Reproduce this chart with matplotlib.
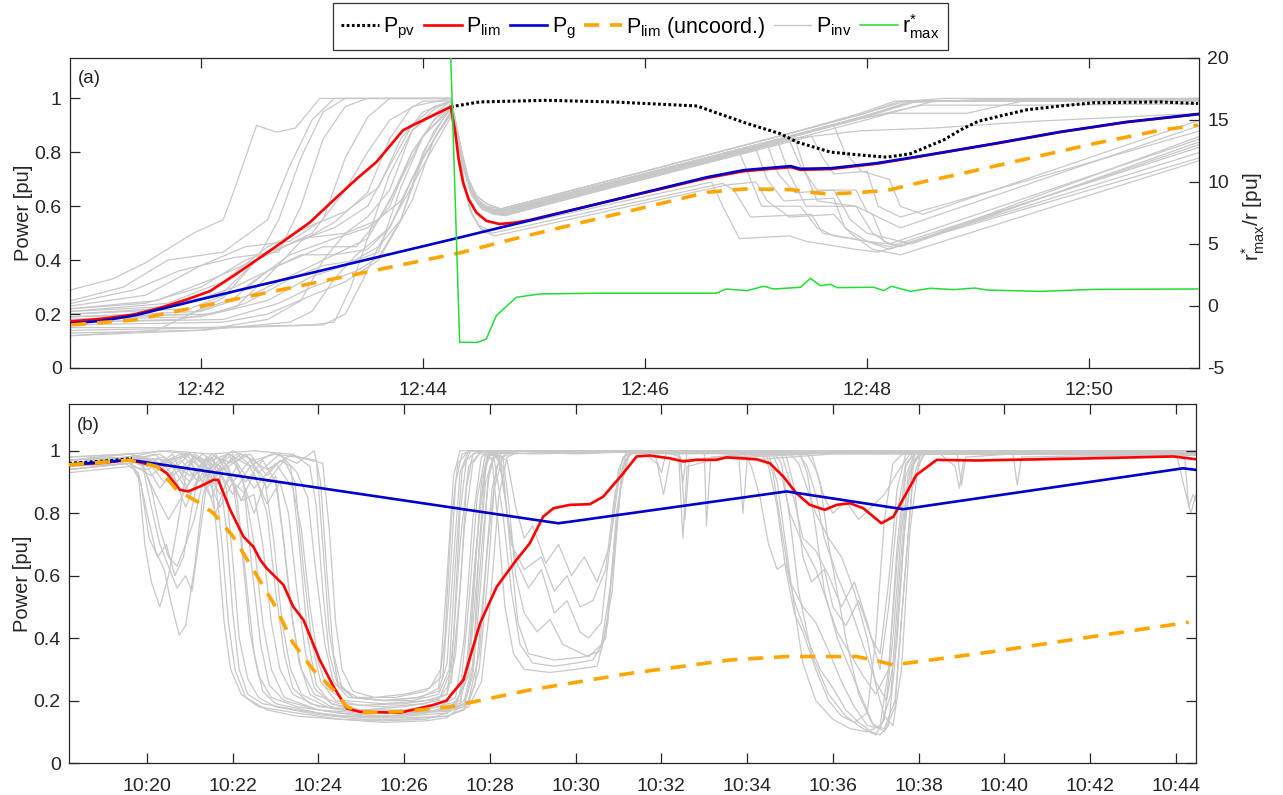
import matplotlib
matplotlib.use("Agg")
import matplotlib.pyplot as plt
from matplotlib.lines import Line2D

plt.rcParams['font.family'] = ['Liberation Sans', 'DejaVu Sans']
plt.rcParams['mathtext.fontset'] = 'custom'
plt.rcParams['mathtext.rm'] = 'Liberation Sans'
plt.rcParams['mathtext.it'] = 'Liberation Sans:italic'
plt.rcParams['mathtext.bf'] = 'Liberation Sans:bold'
plt.rcParams['axes.unicode_minus'] = False

# ---------------------------------------------------------------- panel (a)
# time in minutes after 12:00
ticks_a = [42, 44, 46, 48, 50]
ticklabels_a = ['12:42', '12:44', '12:46', '12:48', '12:50']

t_pv_a = [44.25, 44.51, 45.11, 45.71, 46.47, 46.62, 46.92, 47.22, 47.37, 47.67, 47.94, 48.18,
          48.39, 48.69, 48.85, 49.0, 49.2, 49.44, 49.74, 50.04, 50.64, 50.98]
p_pv_a = [0.969, 0.987, 0.993, 0.987, 0.972, 0.950, 0.907, 0.869, 0.838, 0.801, 0.790, 0.782,
          0.795, 0.846, 0.885, 0.915, 0.935, 0.958, 0.972, 0.984, 0.987, 0.981]

t_lim_a = [40.83, 41.09, 41.39, 41.63, 41.87, 42.08, 42.29, 42.53, 42.77, 42.98, 43.19, 43.40,
           43.58, 43.82, 43.91, 44.25, 44.29, 44.32, 44.36, 44.41, 44.48, 44.57, 44.69, 44.84,
           44.96, 46.56, 46.89, 47.31, 47.40, 47.67, 48.09, 48.54, 49.14, 49.74, 50.34, 50.98]
p_lim_a = [0.173, 0.182, 0.198, 0.223, 0.254, 0.285, 0.341, 0.409, 0.478, 0.540, 0.621, 0.701,
           0.764, 0.882, 0.901, 0.969, 0.876, 0.776, 0.689, 0.627, 0.577, 0.546, 0.534, 0.540,
           0.549, 0.705, 0.730, 0.745, 0.735, 0.738, 0.758, 0.789, 0.831, 0.875, 0.912, 0.941]

t_g_a = [40.83, 41.10, 41.39, 41.99, 44.33, 46.56, 46.89, 47.31, 47.40, 47.67, 48.09, 48.54,
         49.14, 49.74, 50.34, 50.98]
p_g_a = [0.165, 0.175, 0.194, 0.254, 0.484, 0.708, 0.734, 0.749, 0.739, 0.741, 0.760, 0.790,
         0.832, 0.876, 0.913, 0.942]

t_unc_a = [40.83, 41.39, 42.00, 44.34, 44.78, 46.56, 46.89, 47.31, 47.50, 47.63, 47.90, 48.18,
           48.50, 48.84, 49.44, 50.04, 50.64, 50.98]
p_unc_a = [0.160, 0.178, 0.229, 0.428, 0.475, 0.652, 0.664, 0.662, 0.652, 0.646, 0.650, 0.659,
           0.690, 0.720, 0.776, 0.832, 0.882, 0.901]

t_r_a = [44.22, 44.33, 44.49, 44.57, 44.66, 44.84, 45.05, 45.56, 46.64, 46.73, 46.92, 47.07,
         47.16, 47.40, 47.49, 47.58, 47.67, 47.73, 48.06, 48.15, 48.22, 48.39, 48.57, 48.78,
         48.97, 49.08, 49.56, 50.04, 50.98]
r_max_a = [28.6, -2.93, -2.93, -2.66, -0.78, 0.70, 0.97, 1.03, 1.03, 1.37, 1.24, 1.59,
           1.37, 1.51, 2.23, 1.64, 1.75, 1.48, 1.51, 1.24, 1.59, 1.18, 1.43, 1.32,
           1.45, 1.29, 1.18, 1.34, 1.37]

# individual inverter outputs, (minute, pu) knots
inv_a = [
    [(40.83, 0.29), (41.2, 0.33), (41.5, 0.39), (41.93, 0.50), (42.2, 0.55), (42.3, 0.66), (42.5, 0.90),
     (42.68, 0.875), (42.85, 0.89), (43.07, 1.0), (44.25, 1.0), (44.30, 0.90), (44.35, 0.79), (44.41, 0.69),
     (44.48, 0.63), (44.57, 0.60), (44.70, 0.59), (47.30, 0.87), (47.94, 0.94), (48.35, 0.99), (48.7, 1.0),
     (51.0, 1.0)],
    [(40.83, 0.25), (41.3, 0.30), (41.7, 0.40), (42.2, 0.43), (42.6, 0.55), (42.8, 0.75), (43.0, 0.92),
     (43.2, 1.0), (44.25, 1.0), (44.30, 0.89), (44.36, 0.77), (44.42, 0.67), (44.50, 0.61), (44.60, 0.59),
     (44.70, 0.585), (47.30, 0.86), (47.94, 0.93), (48.40, 0.985), (49.0, 0.995), (51.0, 0.99)],
    [(40.83, 0.24), (41.4, 0.29), (41.8, 0.36), (42.3, 0.41), (42.7, 0.43), (42.9, 0.60), (43.1, 0.85),
     (43.3, 0.97), (43.5, 1.0), (44.25, 1.0), (44.31, 0.88), (44.37, 0.75), (44.44, 0.66), (44.52, 0.61),
     (44.62, 0.585), (44.72, 0.58), (47.30, 0.855), (47.94, 0.925), (48.2, 0.945), (48.9, 0.945),
     (49.4, 0.99), (51.0, 0.995)],
    [(40.83, 0.23), (41.5, 0.27), (42.0, 0.38), (42.4, 0.45), (42.8, 0.47), (43.1, 0.55), (43.3, 0.78),
     (43.5, 0.93), (43.7, 1.0), (44.25, 1.0), (44.30, 0.88), (44.36, 0.76), (44.43, 0.66), (44.51, 0.61),
     (44.62, 0.585), (44.72, 0.578), (47.35, 0.85), (47.45, 0.72), (47.55, 0.62), (47.9, 0.60),
     (48.05, 0.57), (48.15, 0.47), (48.3, 0.45), (51.0, 0.86)],
    [(40.83, 0.22), (41.6, 0.25), (42.1, 0.33), (42.6, 0.42), (43.0, 0.50), (43.3, 0.66), (43.5, 0.80),
     (43.7, 0.92), (44.0, 0.99), (44.25, 0.99), (44.31, 0.87), (44.37, 0.74), (44.44, 0.65), (44.53, 0.60),
     (44.64, 0.58), (44.74, 0.575), (47.30, 0.85), (47.94, 0.88), (48.6, 0.89), (49.5, 0.915),
     (51.0, 0.945)],
    [(40.83, 0.22), (41.5, 0.24), (42.0, 0.30), (42.4, 0.40), (42.8, 0.46), (43.2, 0.52), (43.5, 0.60),
     (43.7, 0.75), (43.9, 0.90), (44.1, 0.97), (44.25, 0.99), (44.30, 0.89), (44.36, 0.77), (44.42, 0.67),
     (44.50, 0.61), (44.60, 0.585), (44.70, 0.575), (46.85, 0.80), (46.95, 0.70), (47.05, 0.60),
     (47.4, 0.60), (47.55, 0.52), (47.7, 0.49), (48.0, 0.47), (48.2, 0.44), (51.0, 0.83)],
    [(40.83, 0.21), (41.7, 0.24), (42.2, 0.32), (42.6, 0.45), (43.0, 0.53), (43.3, 0.58), (43.6, 0.67),
     (43.8, 0.85), (44.0, 0.95), (44.25, 0.99), (44.30, 0.88), (44.36, 0.75), (44.43, 0.65), (44.52, 0.60),
     (44.62, 0.58), (44.70, 0.57), (47.1, 0.83), (47.2, 0.72), (47.35, 0.65), (47.7, 0.66), (47.85, 0.55),
     (48.0, 0.50), (48.4, 0.46), (51.0, 0.84)],
    [(40.83, 0.21), (41.8, 0.23), (42.3, 0.30), (42.7, 0.38), (43.1, 0.45), (43.4, 0.45), (43.7, 0.60),
     (43.9, 0.80), (44.1, 0.92), (44.25, 0.98), (44.31, 0.88), (44.37, 0.75), (44.44, 0.66), (44.52, 0.61),
     (44.62, 0.59), (44.72, 0.582), (47.30, 0.858), (47.94, 0.93), (48.45, 0.99), (51.0, 1.0)],
    [(40.83, 0.20), (41.6, 0.22), (42.2, 0.28), (42.5, 0.40), (42.9, 0.48), (43.3, 0.50), (43.6, 0.55),
     (43.8, 0.70), (44.0, 0.86), (44.25, 0.97), (44.30, 0.86), (44.36, 0.70), (44.42, 0.59), (44.50, 0.53),
     (44.60, 0.51), (46.6, 0.69), (46.7, 0.60), (46.85, 0.48), (47.3, 0.49), (47.45, 0.47), (47.9, 0.44),
     (48.1, 0.43), (51.0, 0.80)],
    [(40.83, 0.20), (41.9, 0.22), (42.4, 0.30), (42.8, 0.42), (43.2, 0.48), (43.5, 0.52), (43.8, 0.62),
     (44.0, 0.78), (44.25, 0.95), (44.31, 0.85), (44.37, 0.69), (44.43, 0.58), (44.51, 0.52), (44.62, 0.50),
     (46.7, 0.685), (46.8, 0.66), (46.95, 0.56), (47.5, 0.57), (47.6, 0.50), (48.0, 0.47), (48.3, 0.455),
     (51.0, 0.78)],
    [(40.83, 0.19), (42.0, 0.21), (42.5, 0.28), (42.9, 0.36), (43.2, 0.42), (43.5, 0.44), (43.7, 0.52),
     (43.9, 0.70), (44.1, 0.85), (44.25, 0.94), (44.31, 0.84), (44.37, 0.68), (44.44, 0.57), (44.53, 0.51),
     (44.64, 0.49), (46.75, 0.68), (47.0, 0.69), (47.1, 0.62), (47.3, 0.56), (47.7, 0.57), (47.85, 0.50),
     (48.05, 0.44), (48.3, 0.42), (51.0, 0.77)],
    [(40.83, 0.19), (42.1, 0.20), (42.6, 0.25), (43.0, 0.34), (43.3, 0.38), (43.6, 0.45), (43.8, 0.60),
     (44.0, 0.75), (44.25, 0.93), (44.31, 0.85), (44.37, 0.74), (44.44, 0.65), (44.53, 0.60), (44.64, 0.585),
     (44.74, 0.58), (47.30, 0.855), (47.94, 0.925), (48.45, 0.99), (51.0, 1.0)],
    [(40.83, 0.18), (41.9, 0.20), (42.3, 0.26), (42.6, 0.36), (42.9, 0.42), (43.2, 0.42), (43.5, 0.48),
     (43.7, 0.72), (43.9, 0.88), (44.1, 0.96), (44.25, 0.99), (44.30, 0.88), (44.36, 0.76), (44.43, 0.66),
     (44.51, 0.60), (44.62, 0.575), (44.72, 0.57), (47.30, 0.845), (47.94, 0.915), (48.6, 0.99),
     (51.0, 0.99)],
    [(40.83, 0.18), (42.0, 0.19), (42.4, 0.24), (42.8, 0.33), (43.1, 0.38), (43.4, 0.40), (43.6, 0.43),
     (43.8, 0.67), (44.0, 0.86), (44.25, 0.96), (44.31, 0.87), (44.37, 0.75), (44.44, 0.65), (44.52, 0.60),
     (44.62, 0.578), (44.72, 0.572), (47.3, 0.845), (47.4, 0.75), (47.55, 0.66), (47.9, 0.66), (48.0, 0.58),
     (48.15, 0.55), (48.3, 0.52), (51.0, 0.90)],
    [(40.83, 0.17), (42.2, 0.18), (42.7, 0.24), (43.0, 0.30), (43.4, 0.36), (43.6, 0.41), (43.8, 0.55),
     (44.0, 0.80), (44.25, 0.97), (44.31, 0.87), (44.37, 0.74), (44.44, 0.64), (44.53, 0.59), (44.64, 0.572),
     (44.74, 0.568), (47.5, 0.86), (47.6, 0.78), (47.7, 0.72), (48.0, 0.73), (48.1, 0.60), (48.3, 0.56),
     (51.0, 0.88)],
    [(40.83, 0.17), (41.8, 0.18), (42.3, 0.22), (42.6, 0.34), (42.9, 0.47), (43.2, 0.54), (43.5, 0.65),
     (43.7, 0.85), (43.9, 0.97), (44.25, 1.0), (44.30, 0.90), (44.35, 0.80), (44.41, 0.70), (44.48, 0.64),
     (44.57, 0.61), (44.70, 0.59), (47.30, 0.87), (47.94, 0.945), (48.25, 0.99), (51.0, 0.995)],
    [(40.83, 0.16), (42.2, 0.17), (42.6, 0.20), (43.0, 0.27), (43.3, 0.32), (43.6, 0.40), (43.9, 0.62),
     (44.1, 0.85), (44.25, 0.95), (44.31, 0.86), (44.37, 0.73), (44.44, 0.64), (44.53, 0.59), (44.64, 0.57),
     (44.74, 0.565), (47.0, 0.81), (47.1, 0.70), (47.25, 0.62), (47.7, 0.63), (47.8, 0.52), (48.0, 0.47),
     (48.2, 0.45), (51.0, 0.82)],
    [(40.83, 0.15), (42.0, 0.15), (43.0, 0.16), (43.2, 0.17), (43.35, 0.30), (43.5, 0.48), (43.7, 0.62),
     (43.9, 0.80), (44.1, 0.92), (44.25, 0.97), (44.31, 0.87), (44.37, 0.75), (44.44, 0.65), (44.52, 0.60),
     (44.62, 0.58), (44.72, 0.575), (47.7, 0.90), (47.8, 0.80), (47.95, 0.73), (48.2, 0.70), (48.3, 0.60),
     (48.5, 0.57), (51.0, 0.92)],
    [(40.83, 0.14), (42.3, 0.15), (43.1, 0.16), (43.3, 0.20), (43.45, 0.32), (43.6, 0.45), (43.8, 0.55),
     (44.0, 0.78), (44.25, 0.95), (44.31, 0.86), (44.37, 0.74), (44.44, 0.65), (44.52, 0.60), (44.62, 0.585),
     (44.72, 0.58), (47.30, 0.855), (47.94, 0.925), (48.5, 0.975), (49.5, 0.975), (51.0, 0.98)],
    [(40.83, 0.13), (42.0, 0.14), (42.8, 0.17), (43.0, 0.21), (43.2, 0.33), (43.4, 0.42), (43.7, 0.52),
     (43.9, 0.70), (44.1, 0.88), (44.25, 0.96), (44.31, 0.87), (44.37, 0.75), (44.44, 0.65), (44.52, 0.61),
     (44.62, 0.59), (44.72, 0.585), (47.30, 0.86), (47.94, 0.93), (48.4, 0.99), (51.0, 0.995)],
    [(40.83, 0.12), (42.0, 0.14), (42.6, 0.18), (42.9, 0.25), (43.1, 0.40), (43.3, 0.50), (43.5, 0.56),
     (43.7, 0.66), (43.9, 0.88), (44.25, 0.99), (44.30, 0.88), (44.36, 0.75), (44.43, 0.65), (44.51, 0.60),
     (44.62, 0.575), (44.72, 0.57), (47.2, 0.835), (47.3, 0.72), (47.45, 0.60), (47.9, 0.60), (48.05, 0.50),
     (48.2, 0.46), (51.0, 0.85)],
    [(40.83, 0.12), (41.6, 0.14), (42.2, 0.26), (42.5, 0.40), (42.7, 0.55), (42.9, 0.78), (43.1, 0.95),
     (43.3, 1.0), (44.25, 1.0), (44.30, 0.90), (44.35, 0.80), (44.41, 0.70), (44.48, 0.64), (44.57, 0.61),
     (44.70, 0.59), (47.30, 0.87), (47.94, 0.94), (48.3, 0.99), (51.0, 1.0)],
]

# ---------------------------------------------------------------- panel (b)
# time in minutes after 10:00
ticks_b = [20, 22, 24, 26, 28, 30, 32, 34, 36, 38, 40, 42, 44]
ticklabels_b = ['10:20', '10:22', '10:24', '10:26', '10:28', '10:30', '10:32', '10:34',
                '10:36', '10:38', '10:40', '10:42', '10:44']

t_pv_b = [18.18, 19.0, 19.65]
p_pv_b = [0.960, 0.967, 0.975]

t_lim_b = [18.18, 19.0, 19.6, 20.23, 20.46, 20.77, 20.96, 21.24, 21.55, 21.66, 21.94, 22.25,
           22.48, 22.64, 22.79, 23.18, 23.41, 23.65, 24.03, 24.35, 24.66, 24.97, 25.90, 26.68,
           26.99, 27.07, 27.38, 27.77, 28.16, 28.62, 28.93, 29.24, 29.48, 29.87, 30.33, 30.64,
           31.11, 31.42, 31.73, 32.2, 32.51, 32.82, 33.28, 33.52, 34.22, 34.53, 34.84, 35.15,
           35.46, 35.81, 36.09, 36.40, 36.71, 37.13, 37.41, 37.80, 37.95, 38.42, 39.35, 42.07,
           43.94, 44.47]
p_lim_b = [0.955, 0.962, 0.971, 0.950, 0.928, 0.875, 0.870, 0.886, 0.907, 0.907, 0.811, 0.725,
           0.693, 0.651, 0.624, 0.571, 0.501, 0.458, 0.330, 0.245, 0.175, 0.164, 0.161, 0.186,
           0.200, 0.215, 0.266, 0.448, 0.565, 0.651, 0.704, 0.789, 0.816, 0.827, 0.829, 0.853,
           0.928, 0.982, 0.985, 0.976, 0.966, 0.971, 0.971, 0.979, 0.973, 0.960, 0.918, 0.864,
           0.827, 0.811, 0.827, 0.832, 0.816, 0.768, 0.789, 0.886, 0.923, 0.971, 0.969, 0.976,
           0.982, 0.973]

t_g_b = [18.18, 19.60, 29.59, 29.87, 34.92, 37.64, 44.17, 44.47]
p_g_b = [0.955, 0.971, 0.768, 0.773, 0.870, 0.813, 0.944, 0.939]

t_unc_b = [18.18, 19.6, 20.23, 20.69, 21.24, 21.55, 22.01, 22.48, 22.95, 23.41, 23.88, 24.35,
           24.66, 25.12, 26.0, 27.07, 28.93, 31.26, 33.6, 34.92, 36.55, 37.10, 37.41, 39.74, 44.3]
p_unc_b = [0.955, 0.970, 0.950, 0.875, 0.832, 0.800, 0.725, 0.619, 0.512, 0.384, 0.298, 0.234,
           0.180, 0.161, 0.165, 0.180, 0.234, 0.287, 0.330, 0.341, 0.341, 0.325, 0.314, 0.357, 0.451]

inv_b = [
    [(18.18, 0.94), (19.5, 0.96), (19.8, 0.93), (20.0, 0.80), (20.2, 0.68), (20.4, 0.62), (20.55, 0.52),
     (20.75, 0.41), (20.9, 0.44), (21.1, 0.62), (21.3, 0.85), (21.5, 0.97), (21.9, 0.99), (22.4, 0.95),
     (22.9, 0.99), (23.5, 0.98), (23.95, 0.97), (24.1, 0.70), (24.25, 0.42), (24.45, 0.26), (24.8, 0.21),
     (25.6, 0.20), (26.4, 0.21), (26.8, 0.24), (26.95, 0.40), (27.1, 0.78), (27.25, 0.96), (27.5, 1.0),
     (28.5, 0.99), (30.0, 1.0), (32.5, 0.99), (34.6, 1.0), (34.8, 0.96), (35.0, 0.78), (35.2, 0.55),
     (35.5, 0.35), (35.9, 0.22), (36.3, 0.15), (36.7, 0.11), (37.0, 0.09), (37.2, 0.14), (37.4, 0.40),
     (37.6, 0.75), (37.8, 0.93), (38.0, 0.99), (39.0, 0.99), (44.47, 0.985)],
    [(18.18, 0.96), (19.6, 0.98), (19.9, 0.95), (20.1, 0.82), (20.3, 0.70), (20.5, 0.63), (20.7, 0.56),
     (20.9, 0.60), (21.05, 0.55), (21.2, 0.70), (21.4, 0.90), (21.6, 0.98), (22.0, 0.96), (22.4, 0.99),
     (22.8, 0.92), (23.1, 0.97), (23.35, 0.95), (23.55, 0.70), (23.75, 0.40), (23.95, 0.25), (24.3, 0.19),
     (25.0, 0.17), (26.0, 0.18), (26.8, 0.20), (27.1, 0.30), (27.3, 0.70), (27.5, 0.95), (27.8, 1.0),
     (28.1, 0.97), (28.3, 0.80), (28.5, 0.55), (28.7, 0.38), (29.0, 0.32), (29.5, 0.31), (30.0, 0.32),
     (30.4, 0.33), (30.7, 0.40), (30.9, 0.70), (31.1, 0.95), (31.3, 1.0), (33.0, 0.99), (34.5, 1.0),
     (44.47, 0.99)],
    [(18.18, 0.95), (19.6, 0.97), (19.9, 0.96), (20.1, 0.88), (20.3, 0.75), (20.5, 0.66), (20.7, 0.63),
     (20.9, 0.70), (21.1, 0.78), (21.3, 0.90), (21.5, 0.96), (21.7, 0.92), (21.85, 0.75), (22.0, 0.48),
     (22.15, 0.30), (22.35, 0.22), (22.7, 0.19), (23.5, 0.17), (24.5, 0.15), (25.5, 0.15), (26.5, 0.16),
     (27.2, 0.19), (27.5, 0.28), (27.7, 0.60), (27.9, 0.90), (28.1, 0.99), (28.5, 1.0), (30.0, 0.99),
     (31.8, 1.0), (32.0, 0.93), (32.1, 0.99), (34.3, 1.0), (34.5, 0.95), (34.7, 0.82), (34.9, 0.62),
     (35.1, 0.48), (35.3, 0.42), (35.6, 0.30), (35.9, 0.20), (36.2, 0.15), (36.5, 0.13), (36.8, 0.16),
     (37.0, 0.40), (37.2, 0.78), (37.4, 0.96), (37.7, 1.0), (44.47, 1.0)],
    [(18.18, 0.97), (19.6, 0.99), (20.0, 0.97), (20.4, 0.90), (20.7, 0.95), (21.0, 0.99), (21.3, 0.97),
     (21.5, 0.92), (21.65, 0.70), (21.8, 0.45), (21.95, 0.30), (22.2, 0.22), (22.6, 0.18), (23.5, 0.16),
     (24.5, 0.14), (25.5, 0.135), (26.5, 0.14), (27.0, 0.16), (27.3, 0.22), (27.5, 0.50), (27.7, 0.85),
     (27.9, 0.99), (28.3, 1.0), (31.0, 1.0), (32.4, 0.99), (32.5, 0.72), (32.6, 0.95), (34.0, 1.0),
     (44.47, 0.995)],
    [(18.18, 0.95), (19.6, 0.97), (20.0, 0.95), (20.3, 0.88), (20.6, 0.93), (20.9, 0.82), (21.2, 0.92),
     (21.5, 0.85), (21.8, 0.95), (22.0, 0.90), (22.2, 0.70), (22.4, 0.42), (22.6, 0.28), (22.9, 0.21),
     (23.5, 0.18), (24.5, 0.16), (25.5, 0.15), (26.5, 0.16), (27.2, 0.18), (27.45, 0.30), (27.65, 0.65),
     (27.85, 0.92), (28.0, 1.0), (28.3, 0.98), (28.45, 0.82), (28.6, 0.60), (28.8, 0.48), (29.1, 0.42),
     (29.4, 0.46), (29.7, 0.38), (30.0, 0.36), (30.3, 0.34), (30.6, 0.38), (30.85, 0.60), (31.05, 0.88),
     (31.25, 0.99), (33.0, 1.0), (33.05, 0.76), (33.15, 0.98), (35.2, 1.0), (35.4, 0.93), (35.6, 0.75),
     (35.8, 0.55), (36.1, 0.40), (36.4, 0.30), (36.7, 0.20), (36.95, 0.12), (37.2, 0.11), (37.45, 0.20),
     (37.65, 0.55), (37.85, 0.88), (38.1, 0.99), (44.47, 0.99)],
    [(18.18, 0.93), (19.6, 0.95), (20.0, 0.94), (20.5, 0.97), (21.0, 0.90), (21.3, 0.95), (21.7, 0.82),
     (22.0, 0.90), (22.3, 0.86), (22.5, 0.70), (22.7, 0.45), (22.9, 0.30), (23.2, 0.21), (24.0, 0.17),
     (25.0, 0.15), (26.0, 0.15), (27.0, 0.16), (27.5, 0.20), (27.75, 0.35), (27.95, 0.70), (28.15, 0.95),
     (28.4, 1.0), (32.0, 1.0), (33.8, 0.99), (33.9, 0.80), (34.0, 0.97), (36.0, 0.99), (37.5, 0.99),
     (44.0, 1.0), (44.2, 0.88), (44.35, 0.80), (44.47, 0.86)],
    [(18.18, 0.96), (19.6, 0.97), (20.2, 0.99), (20.6, 0.92), (21.0, 0.97), (21.4, 0.88), (21.8, 0.97),
     (22.2, 0.84), (22.5, 0.93), (22.8, 0.80), (23.0, 0.55), (23.2, 0.35), (23.4, 0.24), (23.8, 0.19),
     (24.5, 0.17), (25.5, 0.16), (26.5, 0.17), (27.3, 0.20), (27.5, 0.30), (27.65, 0.62), (27.8, 0.90),
     (27.95, 0.99), (28.2, 0.98), (28.35, 0.85), (28.5, 0.70), (28.8, 0.62), (29.2, 0.66), (29.5, 0.55),
     (29.8, 0.60), (30.1, 0.50), (30.4, 0.52), (30.7, 0.62), (30.9, 0.85), (31.1, 0.98), (31.4, 1.0),
     (34.8, 0.99), (35.0, 0.90), (35.3, 0.72), (35.6, 0.68), (35.9, 0.60), (36.2, 0.50), (36.5, 0.58),
     (36.8, 0.45), (37.1, 0.30), (37.3, 0.50), (37.5, 0.80), (37.7, 0.96), (38.0, 1.0), (44.47, 0.99)],
    [(18.18, 0.98), (19.6, 0.99), (20.3, 0.96), (20.8, 0.99), (21.2, 0.93), (21.6, 0.99), (22.0, 0.90),
     (22.4, 0.97), (22.8, 0.88), (23.0, 0.92), (23.2, 0.70), (23.4, 0.45), (23.6, 0.30), (23.9, 0.22),
     (24.5, 0.19), (25.5, 0.18), (26.5, 0.19), (27.0, 0.22), (27.15, 0.40), (27.3, 0.80), (27.45, 0.97),
     (27.7, 1.0), (28.05, 0.97), (28.2, 0.75), (28.35, 0.50), (28.55, 0.35), (28.8, 0.30), (29.4, 0.29),
     (30.0, 0.30), (30.5, 0.31), (30.75, 0.45), (30.95, 0.80), (31.15, 0.97), (31.4, 1.0), (35.0, 1.0),
     (44.47, 0.995)],
    [(18.18, 0.95), (19.6, 0.96), (20.4, 0.98), (21.0, 0.92), (21.5, 0.98), (22.0, 0.86), (22.4, 0.95),
     (22.8, 0.83), (23.1, 0.90), (23.3, 0.80), (23.5, 0.55), (23.7, 0.35), (23.9, 0.24), (24.3, 0.19),
     (25.0, 0.16), (26.0, 0.16), (27.0, 0.17), (27.5, 0.19), (27.75, 0.30), (27.95, 0.60), (28.1, 0.88),
     (28.3, 0.98), (28.6, 1.0), (32.4, 1.0), (32.5, 0.90), (32.6, 1.0), (34.6, 0.99), (34.8, 0.92),
     (35.0, 0.80), (35.3, 0.70), (35.6, 0.62), (35.9, 0.50), (36.1, 0.42), (36.4, 0.35), (36.7, 0.28),
     (37.0, 0.22), (37.3, 0.30), (37.5, 0.65), (37.7, 0.92), (37.9, 0.99), (44.47, 0.99)],
    [(18.18, 0.96), (19.6, 0.98), (20.5, 0.97), (21.0, 0.99), (21.5, 0.90), (22.0, 0.98), (22.5, 0.88),
     (23.0, 0.96), (23.4, 0.88), (23.6, 0.75), (23.8, 0.50), (24.0, 0.32), (24.2, 0.24), (24.6, 0.20),
     (25.5, 0.19), (26.5, 0.20), (27.0, 0.22), (27.2, 0.35), (27.4, 0.75), (27.6, 0.96), (27.8, 1.0),
     (34.5, 0.99), (34.7, 0.90), (34.9, 0.70), (35.1, 0.50), (35.3, 0.32), (35.6, 0.20), (36.0, 0.14),
     (36.4, 0.11), (36.8, 0.10), (37.1, 0.12), (37.3, 0.30), (37.5, 0.70), (37.7, 0.95), (37.9, 1.0),
     (44.47, 0.99)],
    [(18.18, 0.97), (19.6, 0.98), (20.3, 1.0), (21.0, 0.99), (21.5, 0.95), (22.0, 1.0), (22.5, 0.97),
     (23.0, 0.99), (23.5, 0.96), (23.9, 1.0), (24.05, 0.90), (24.2, 0.60), (24.35, 0.35), (24.55, 0.24),
     (24.9, 0.21), (25.8, 0.21), (26.5, 0.23), (26.9, 0.28), (27.05, 0.55), (27.2, 0.90), (27.35, 0.99),
     (27.6, 1.0), (29.0, 0.99), (32.0, 1.0), (32.45, 0.98), (32.55, 0.78), (32.65, 0.97), (35.5, 0.99),
     (35.7, 0.90), (35.9, 0.70), (36.1, 0.55), (36.3, 0.40), (36.6, 0.22), (36.9, 0.13), (37.2, 0.10),
     (37.45, 0.18), (37.65, 0.55), (37.85, 0.90), (38.05, 0.99), (44.47, 0.995)],
    [(18.18, 0.94), (19.6, 0.96), (19.85, 0.90), (20.05, 0.72), (20.25, 0.66), (20.45, 0.70), (20.65, 0.60),
     (20.85, 0.66), (21.05, 0.82), (21.25, 0.95), (21.5, 0.99), (21.9, 0.95), (22.1, 0.85), (22.3, 0.60),
     (22.5, 0.35), (22.7, 0.23), (23.0, 0.19), (24.0, 0.16), (25.0, 0.145), (26.0, 0.145), (27.0, 0.15),
     (27.5, 0.18), (27.8, 0.26), (28.0, 0.50), (28.2, 0.85), (28.4, 0.98), (28.7, 1.0), (34.4, 1.0),
     (34.6, 0.93), (34.8, 0.75), (35.0, 0.58), (35.3, 0.50), (35.6, 0.45), (35.9, 0.36), (36.2, 0.26),
     (36.5, 0.18), (36.8, 0.12), (37.1, 0.11), (37.35, 0.22), (37.55, 0.60), (37.75, 0.92), (37.95, 1.0),
     (44.47, 0.99)],
    [(18.18, 0.95), (19.6, 0.97), (20.2, 0.95), (20.6, 0.99), (21.0, 0.86), (21.3, 0.93), (21.6, 0.80),
     (21.9, 0.92), (22.2, 0.84), (22.5, 0.86), (22.7, 0.70), (22.9, 0.45), (23.1, 0.30), (23.4, 0.22),
     (24.0, 0.18), (25.0, 0.17), (26.0, 0.17), (26.8, 0.18), (27.2, 0.21), (27.4, 0.40), (27.6, 0.78),
     (27.8, 0.98), (28.0, 1.0), (28.25, 0.96), (28.4, 0.80), (28.6, 0.65), (28.9, 0.56), (29.2, 0.62),
     (29.5, 0.48), (29.8, 0.52), (30.1, 0.42), (30.3, 0.40), (30.6, 0.45), (30.8, 0.70), (31.0, 0.94),
     (31.2, 1.0), (33.5, 0.99), (36.5, 1.0), (44.47, 1.0)],
    [(18.18, 0.97), (19.6, 0.99), (20.2, 0.97), (20.7, 0.90), (21.1, 0.98), (21.6, 0.92), (22.1, 0.99),
     (22.6, 0.93), (23.1, 0.99), (23.5, 0.93), (23.75, 0.85), (23.95, 0.60), (24.15, 0.38), (24.35, 0.26),
     (24.7, 0.21), (25.5, 0.20), (26.3, 0.21), (26.8, 0.23), (27.0, 0.32), (27.15, 0.65), (27.3, 0.93),
     (27.5, 1.0), (35.4, 0.99), (35.6, 0.94), (35.8, 0.85), (36.0, 0.80), (36.3, 0.84), (36.6, 0.78),
     (36.9, 0.82), (37.2, 0.86), (37.5, 0.93), (37.8, 0.99), (44.47, 0.99)],
    [(18.18, 0.96), (19.6, 0.98), (20.0, 0.97), (20.4, 0.93), (20.8, 0.97), (21.2, 0.90), (21.6, 0.96),
     (21.85, 0.88), (22.0, 0.65), (22.15, 0.40), (22.35, 0.27), (22.6, 0.21), (23.0, 0.18), (24.0, 0.155),
     (25.0, 0.14), (26.0, 0.14), (27.0, 0.15), (27.4, 0.17), (27.65, 0.25), (27.85, 0.55), (28.05, 0.88),
     (28.25, 0.99), (28.5, 1.0), (31.5, 1.0), (31.9, 0.96), (32.05, 0.86), (32.2, 0.97), (34.9, 0.99),
     (35.1, 0.88), (35.3, 0.66), (35.5, 0.58), (35.8, 0.62), (36.0, 0.50), (36.3, 0.44), (36.6, 0.52),
     (36.9, 0.40), (37.1, 0.35), (37.3, 0.58), (37.5, 0.88), (37.7, 0.99), (44.47, 0.99)],
    [(18.18, 0.97), (19.6, 0.98), (20.3, 0.95), (20.9, 0.99), (21.4, 0.92), (21.9, 0.99), (22.3, 0.90),
     (22.7, 0.97), (23.0, 0.90), (23.15, 0.75), (23.35, 0.50), (23.55, 0.32), (23.8, 0.22), (24.3, 0.18),
     (25.0, 0.16), (26.0, 0.16), (27.0, 0.17), (27.4, 0.20), (27.6, 0.32), (27.8, 0.68), (28.0, 0.95),
     (28.2, 1.0), (33.0, 1.0), (38.5, 0.99), (38.85, 0.95), (38.95, 0.88), (39.05, 0.97), (44.47, 0.99)],
    [(18.18, 0.95), (19.6, 0.97), (19.9, 0.95), (20.2, 0.86), (20.5, 0.78), (20.8, 0.85), (21.1, 0.93),
     (21.4, 0.98), (21.6, 0.90), (21.75, 0.70), (21.9, 0.45), (22.05, 0.30), (22.3, 0.21), (22.8, 0.17),
     (23.5, 0.15), (24.5, 0.14), (25.5, 0.13), (26.5, 0.135), (27.0, 0.145), (27.3, 0.18), (27.55, 0.40),
     (27.75, 0.80), (27.95, 0.98), (28.2, 1.0), (33.9, 1.0), (34.1, 0.95), (34.3, 0.85), (34.5, 0.70),
     (34.7, 0.62), (34.9, 0.64), (35.1, 0.52), (35.4, 0.40), (35.7, 0.30), (36.0, 0.24), (36.3, 0.17),
     (36.6, 0.13), (36.9, 0.10), (37.1, 0.09), (37.3, 0.12), (37.5, 0.40), (37.7, 0.80), (37.9, 0.97),
     (38.1, 1.0), (44.47, 0.995)],
    [(18.18, 0.98), (19.6, 0.99), (20.5, 1.0), (21.5, 0.99), (22.5, 1.0), (23.3, 0.99), (23.8, 0.97),
     (24.1, 0.96), (24.25, 0.75), (24.4, 0.45), (24.55, 0.30), (24.8, 0.23), (25.3, 0.21), (26.0, 0.22),
     (26.6, 0.24), (26.85, 0.30), (27.0, 0.60), (27.15, 0.92), (27.3, 1.0), (38.9, 0.99), (39.0, 0.89),
     (39.1, 0.98), (40.2, 0.99), (40.3, 0.89), (40.4, 0.98), (44.47, 0.99)],
    [(18.18, 0.94), (19.6, 0.96), (20.1, 0.92), (20.5, 0.97), (20.9, 0.88), (21.3, 0.96), (21.7, 0.86),
     (22.1, 0.95), (22.5, 0.80), (22.75, 0.90), (22.95, 0.72), (23.15, 0.45), (23.35, 0.30), (23.6, 0.22),
     (24.2, 0.18), (25.0, 0.165), (26.0, 0.165), (27.0, 0.17), (27.4, 0.19), (27.6, 0.28), (27.8, 0.60),
     (27.95, 0.90), (28.1, 0.99), (28.4, 0.97), (28.6, 0.82), (28.8, 0.72), (29.0, 0.76), (29.3, 0.64),
     (29.6, 0.70), (29.9, 0.60), (30.2, 0.66), (30.5, 0.58), (30.8, 0.70), (31.0, 0.90), (31.2, 1.0),
     (33.7, 0.99), (44.47, 0.995)],
    [(18.18, 0.95), (19.6, 0.97), (20.3, 0.99), (20.8, 0.93), (21.3, 0.99), (21.8, 0.94), (22.3, 0.99),
     (22.8, 0.90), (23.2, 0.97), (23.45, 0.90), (23.65, 0.62), (23.85, 0.38), (24.05, 0.26), (24.4, 0.20),
     (25.0, 0.185), (26.0, 0.19), (26.8, 0.205), (27.1, 0.26), (27.3, 0.55), (27.45, 0.88), (27.6, 0.99),
     (27.9, 1.0), (35.2, 0.99), (35.4, 0.95), (35.6, 0.86), (35.8, 0.72), (36.1, 0.60), (36.4, 0.50),
     (36.7, 0.38), (37.0, 0.26), (37.25, 0.20), (37.45, 0.35), (37.65, 0.72), (37.85, 0.95), (38.1, 1.0),
     (44.47, 1.0)],
    [(18.18, 0.96), (19.6, 0.97), (19.8, 0.92), (19.95, 0.70), (20.1, 0.58), (20.3, 0.50), (20.5, 0.60),
     (20.7, 0.75), (20.9, 0.92), (21.1, 0.99), (21.6, 0.95), (22.0, 0.99), (22.25, 0.90), (22.45, 0.62),
     (22.65, 0.38), (22.85, 0.25), (23.2, 0.20), (24.0, 0.17), (25.0, 0.16), (26.0, 0.16), (27.0, 0.165),
     (27.4, 0.18), (27.6, 0.30), (27.75, 0.70), (27.9, 0.95), (28.05, 1.0), (28.3, 0.95), (28.45, 0.72),
     (28.65, 0.45), (28.9, 0.35), (29.5, 0.33), (30.2, 0.34), (30.6, 0.36), (30.85, 0.55), (31.05, 0.90),
     (31.25, 1.0), (44.47, 0.99)],
    [(18.18, 0.97), (19.6, 0.98), (20.4, 0.95), (21.0, 0.99), (21.6, 0.93), (22.2, 0.99), (22.8, 0.94),
     (23.4, 0.99), (23.8, 0.95), (23.95, 0.82), (24.1, 0.55), (24.25, 0.35), (24.45, 0.25), (24.8, 0.21),
     (25.5, 0.20), (26.2, 0.20), (26.8, 0.22), (27.05, 0.30), (27.2, 0.65), (27.35, 0.94), (27.55, 1.0),
     (35.0, 0.99), (35.2, 0.96), (35.4, 0.88), (35.6, 0.80), (35.9, 0.72), (36.2, 0.66), (36.5, 0.55),
     (36.8, 0.40), (37.0, 0.25), (37.2, 0.15), (37.4, 0.12), (37.6, 0.30), (37.8, 0.75), (38.0, 0.96),
     (38.2, 1.0), (44.2, 0.99), (44.3, 0.82), (44.4, 0.86), (44.47, 0.84)],
]

# ---------------------------------------------------------------- styles
C_GRAY = '#c8c8c8'
C_RED = '#ff0000'
C_BLUE = '#0000cc'
C_ORANGE = '#ffa500'
C_GREEN = '#22dd33'
C_AX = '#262626'
FS = 14

W, H = 1283, 795
fig = plt.figure(figsize=(W / 100, H / 100), dpi=100)
ax_a = fig.add_axes([70 / W, 1 - 368 / H, (1199 - 70) / W, (368 - 58) / H])
ax_b = fig.add_axes([69 / W, 1 - 763 / H, (1196 - 69) / W, (763 - 404) / H])


def draw_panel(ax, inv, t_pv, p_pv, t_lim, p_lim, t_g, p_g, t_unc, p_unc):
    for tr in inv:
        ax.plot([p[0] for p in tr], [p[1] for p in tr], color=C_GRAY, lw=0.9, zorder=1)
    h_pv, = ax.plot(t_pv, p_pv, color='black', lw=2.2, linestyle=(0, (0.9, 0.8)), zorder=3)
    h_lim, = ax.plot(t_lim, p_lim, color=C_RED, lw=1.9, zorder=4)
    h_g, = ax.plot(t_g, p_g, color=C_BLUE, lw=1.9, zorder=5)
    h_unc, = ax.plot(t_unc, p_unc, color=C_ORANGE, lw=2.6, linestyle=(0, (4.2, 3.0)), zorder=6)
    return h_pv, h_lim, h_g, h_unc


def style_axes(ax, ticks, labels, xlim):
    ax.set_xlim(*xlim)
    ax.set_ylim(0, 1.15)
    ax.set_xticks(ticks)
    ax.set_xticklabels(labels)
    ax.set_yticks([0, 0.2, 0.4, 0.6, 0.8, 1.0])
    ax.set_yticklabels(['0', '0.2', '0.4', '0.6', '0.8', '1'])
    ax.tick_params(direction='in', length=7, width=0.9, color=C_AX, labelcolor=C_AX,
                   labelsize=FS, top=True, pad=6)
    for s in ax.spines.values():
        s.set_color(C_AX)
        s.set_linewidth(0.9)
    ax.set_ylabel('Power [pu]', fontsize=FS + 0.5, color=C_AX)


h_pv, h_lim, h_g, h_unc = draw_panel(ax_a, inv_a, t_pv_a, p_pv_a, t_lim_a, p_lim_a,
                                     t_g_a, p_g_a, t_unc_a, p_unc_a)
style_axes(ax_a, ticks_a, ticklabels_a, (40.82, 50.99))
ax_a.tick_params(axis='x', pad=10)
ax_a.yaxis.set_label_coords(-0.033, 0.5)
ax_a.text(0.007, 0.935, '(a)', transform=ax_a.transAxes, fontsize=13.5, color=C_AX,
          ha='left', va='center')

ax_r = ax_a.twinx()
ax_r.plot(t_r_a, r_max_a, color=C_GREEN, lw=1.1)
ax_r.set_ylim(-5, 20)
ax_r.set_yticks([-5, 0, 5, 10, 15, 20])
ax_r.tick_params(direction='in', length=7, width=0.9, color=C_AX, labelcolor=C_AX,
                 labelsize=FS, pad=6)
for s in ax_r.spines.values():
    s.set_visible(False)
ax_r.set_ylabel(r'r$^{*}_{\mathrm{max}}$/r [pu]', fontsize=FS + 1, color=C_AX)
ax_r.yaxis.set_label_coords(1.036, 0.49)

draw_panel(ax_b, inv_b, t_pv_b, p_pv_b, t_lim_b, p_lim_b, t_g_b, p_g_b, t_unc_b, p_unc_b)
style_axes(ax_b, ticks_b, ticklabels_b, (18.18, 44.47))
ax_b.tick_params(right=True)
ax_b.tick_params(axis='x', pad=10.5)
ax_b.yaxis.set_label_coords(-0.033, 0.5)
ax_b.text(0.007, 0.941, '(b)', transform=ax_b.transAxes, fontsize=13.5, color=C_AX,
          ha='left', va='center')

# legend above panel (a)
h_inv = Line2D([], [], color=C_GRAY, lw=1.0)
h_r = Line2D([], [], color=C_GREEN, lw=1.1)
leg = fig.legend([h_pv, h_lim, h_g, h_unc, h_inv, h_r],
                 [r'P$_{\mathrm{pv}}$', r'P$_{\mathrm{lim}}$', r'P$_{\mathrm{g}}$',
                  r'P$_{\mathrm{lim}}$ (uncoord.)', r'P$_{\mathrm{inv}}$', r'r$^{*}_{\mathrm{max}}$'],
                 loc='center', bbox_to_anchor=(640.5 / W, 1 - 26.5 / H), ncol=6,
                 fontsize=15.5, frameon=True, fancybox=False, edgecolor='black',
                 handlelength=1.75, handletextpad=0.2, columnspacing=0.4,
                 borderpad=0.4, borderaxespad=0)
leg.get_frame().set_linewidth(0.9)

fig.savefig('out.png', dpi=100)
